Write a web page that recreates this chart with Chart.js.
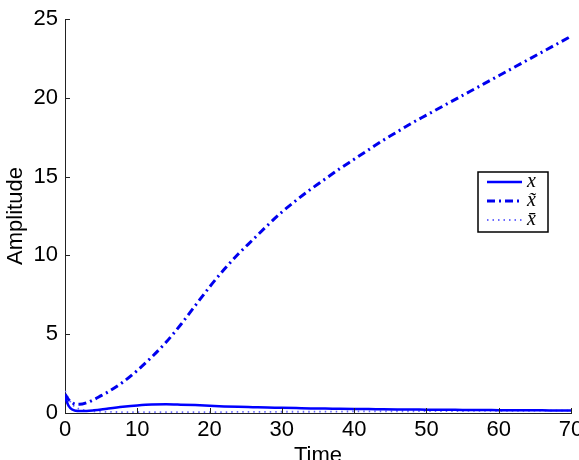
<!DOCTYPE html>
<html>
<head>
<meta charset="utf-8">
<script src="https://cdn.jsdelivr.net/npm/chart.js@4"></script>
<style>
html,body{margin:0;padding:0;background:#fff;overflow:hidden;}
#wrap{width:579px;height:475px;position:relative;}
</style>
</head>
<body>
<div id="wrap"><canvas id="c"></canvas></div>
<script>
// ---- data ----
const times = [0,0.5,1,1.5,2,3,4,5,6,8,10,12,14,16,18,20,22,24,26,28,30,32,34,36,38,40,42,44,46,48,50,52,54,56,58,60,62,64,66,68,70];
const xValues = [1.0,0.45,0.22,0.14,0.12,0.13,0.17,0.22,0.28,0.39,0.48,0.54,0.55,0.53,0.5,0.46,0.42,0.39,0.37,0.35,0.33,0.31,0.29,0.28,0.27,0.26,0.25,0.24,0.23,0.22,0.21,0.2,0.2,0.19,0.19,0.18,0.18,0.17,0.17,0.16,0.16];
const xTildeValues = [1.2,0.85,0.65,0.55,0.55,0.65,0.85,1.1,1.35,1.95,2.7,3.55,4.5,5.6,6.8,8.0,9.1,10.1,11.0,11.9,12.75,13.5,14.2,14.85,15.5,16.1,16.7,17.3,17.85,18.4,18.9,19.4,19.9,20.4,20.9,21.4,21.9,22.4,22.9,23.4,23.9];
const xBarValues = [1.4,0.9,0.55,0.35,0.25,0.15,0.1,0.08,0.07,0.06,0.06,0.06,0.06,0.06,0.06,0.06,0.06,0.07,0.07,0.07,0.08,0.08,0.08,0.09,0.09,0.1,0.1,0.1,0.11,0.11,0.12,0.12,0.12,0.13,0.13,0.14,0.14,0.14,0.15,0.15,0.15];
const seriesLabels = ["x", "x\u0303", "x\u0304"];
const xTickMin = 0, xTickMax = 70, xTickStep = 10;
const yTickMin = 0, yTickMax = 25, yTickStep = 5;
const xTitle = "Time";
const yTitle = "Amplitude";

const pts = vals => times.map((t,i)=>({x:t,y:vals[i]}));
const FONT = "'Liberation Sans', Arial, Helvetica, sans-serif";
const W = 579, H = 475, AXIS_BOTTOM = 413, AXIS_LEFT = 65;

const inwardTicks = {
  id:'inwardTicks',
  afterDatasetsDraw(chart){
    const ctx = chart.ctx, xs = chart.scales.x, ys = chart.scales.y;
    const a = chart.chartArea;
    ctx.save();
    ctx.strokeStyle = '#222';
    ctx.lineWidth = 1;
    ctx.beginPath();
    xs.ticks.forEach(t=>{ const px = Math.round(xs.getPixelForValue(t.value))+0.5; ctx.moveTo(px,a.bottom); ctx.lineTo(px,a.bottom-5); });
    ys.ticks.forEach(t=>{ const py = Math.round(ys.getPixelForValue(t.value))+0.5; ctx.moveTo(a.left,py); ctx.lineTo(a.left+5,py); });
    ctx.stroke();
    ctx.restore();
  }
};

const boxLegend = {
  id:'boxLegend',
  afterDraw(chart){
    const ctx = chart.ctx;
    const bx = 478, by = 172, bw = 70, bh = 60;
    ctx.save();
    ctx.fillStyle = '#fff';
    ctx.fillRect(bx,by,bw,bh);
    ctx.strokeStyle = '#000';
    ctx.lineWidth = 1.5;
    ctx.strokeRect(bx,by,bw,bh);
    const rows = [182, 201, 220];
    chart.data.datasets.forEach((ds,i)=>{
      ctx.strokeStyle = ds.borderColor;
      ctx.lineWidth = ds.borderWidth;
      ctx.setLineDash(ds.borderDash || []);
      ctx.beginPath();
      ctx.moveTo(487, rows[i]);
      ctx.lineTo(522, rows[i]);
      ctx.stroke();
      ctx.setLineDash([]);
      ctx.fillStyle = '#000';
      ctx.font = "italic 20px 'Liberation Serif', 'DejaVu Serif', serif";
      ctx.textBaseline = 'middle';
      ctx.textAlign = 'left';
      ctx.fillText(ds.label, 527, rows[i]);
    });
    ctx.restore();
  }
};

new Chart(document.getElementById('c'), {
  type:'line',
  data:{
    datasets:[
      {label:seriesLabels[0], data:pts(xValues), borderColor:'#0000ff', borderWidth:2.5, pointRadius:0, fill:false, cubicInterpolationMode:'monotone'},
      {label:seriesLabels[1], data:pts(xTildeValues), borderColor:'#0000ee', borderWidth:3, borderDash:[8,4,2,4], pointRadius:0, fill:false, cubicInterpolationMode:'monotone'},
      {label:seriesLabels[2], data:pts(xBarValues), borderColor:'#6a6aff', borderWidth:1.8, borderDash:[1.5,4], pointRadius:0, fill:false, cubicInterpolationMode:'monotone'}
    ]
  },
  options:{
    responsive:true,
    maintainAspectRatio:false,
    animation:false,
    layout:{autoPadding:false, padding:{top:19,left:0,right:8,bottom:0}},
    plugins:{legend:{display:false}, tooltip:{enabled:false}},
    scales:{
      x:{
        type:'linear', min:xTickMin, max:xTickMax,
        ticks:{stepSize:xTickStep, color:'#000', font:{family:FONT,size:22}, padding:4, maxRotation:0},
        grid:{display:true, drawOnChartArea:false, drawTicks:false},
        border:{display:true, color:'#222', width:1},
        title:{display:true, text:xTitle, color:'#000', font:{family:FONT,size:22}, padding:{top:0,bottom:6}},
        afterFit(s){ s.height = H - AXIS_BOTTOM; s.paddingLeft = 0; s.paddingRight = 0; }
      },
      y:{
        type:'linear', min:yTickMin, max:yTickMax,
        ticks:{stepSize:yTickStep, color:'#000', font:{family:FONT,size:22}, padding:7},
        grid:{display:true, drawOnChartArea:false, drawTicks:false},
        border:{display:true, color:'#222', width:1},
        title:{display:true, text:yTitle, color:'#000', font:{family:FONT,size:22}, padding:{top:3,bottom:0}},
        afterFit(s){ s.width = AXIS_LEFT; s.paddingTop = 0; s.paddingBottom = 0; }
      }
    }
  },
  plugins:[inwardTicks, boxLegend]
});
</script>
</body>
</html>
